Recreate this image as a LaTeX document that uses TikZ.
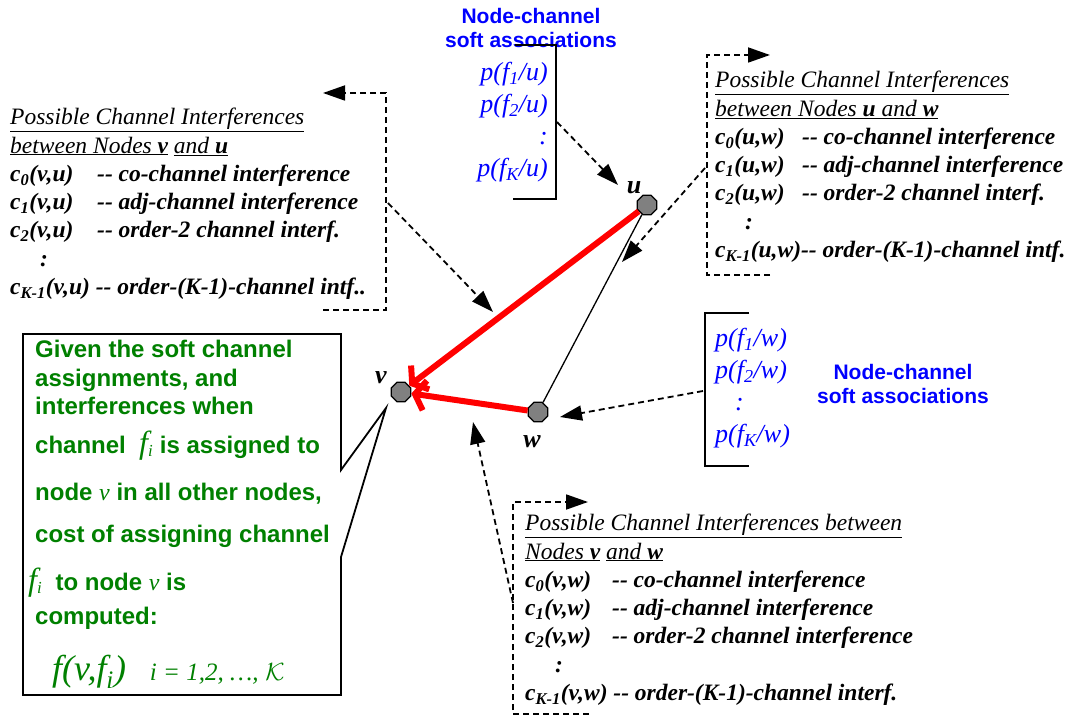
\documentclass[tikz,border=0pt]{standalone}
\usepackage{fontspec}
\setmainfont{Liberation Serif}
\newfontfamily\arialfont{Liberation Sans}
\usetikzlibrary{arrows.meta,shapes.geometric}
\definecolor{assocblue}{RGB}{0,0,255}
\definecolor{notegreen}{RGB}{0,128,0}
\tikzset{
  netnode/.style={
    regular polygon,
    regular polygon sides=8,
    draw,
    line width=1.3pt,
    fill=gray,
    minimum size=21pt,
    inner sep=0pt
  },
  nodelabel/.style={inner sep=0pt,font=\bfseries\itshape\fontsize{26}{26}\selectfont},
  ifbox/.style={
    align=left,
    anchor=north west,
    inner sep=0pt,
    font=\itshape\fontsize{23.5}{28.3}\selectfont
  },
  probtext/.style={text=assocblue,inner sep=0pt,font=\itshape\fontsize{26}{32}\selectfont},
  assoctext/.style={text=assocblue,align=center,inner sep=0pt,font=\arialfont\bfseries\fontsize{21}{24.5}\selectfont},
  notetext/.style={text=notegreen,anchor=base west,inner sep=0pt,font=\arialfont\bfseries\fontsize{24}{28}\selectfont},
  redarrow/.style={red,line width=6pt,-{Straight Barb[length=10pt,width=30pt]}},
  dasharrow/.style={dash pattern=on 6pt off 4pt,line width=1.8pt,-{Triangle[length=22pt,width=15pt]}},
  dashbracket/.style={dash pattern=on 6pt off 4pt,line width=1.8pt},
  bracket/.style={line width=1.8pt}
}
\newcommand{\cpair}[2]{\makebox[87pt][l]{c\textsubscript{#1}(#2)}}
\newcommand{\scr}[1]{{\rmfamily\mdseries\itshape #1}}
\newcommand{\fis}{{\fontsize{32}{32}\selectfont\scr{f}}\textsubscript{\scr{i}}}

\begin{document}
\begin{tikzpicture}[x=1pt,y=-1pt]
  \useasboundingbox (0,0) rectangle (1074,719);
  % network
  \node[netnode] (u) at (647,205) {};
  \node[netnode] (v) at (401,392) {};
  \node[netnode] (w) at (538,412) {};
  \node[nodelabel] (ulab) at (634,188) {u};
  \node[nodelabel] (vlab) at (381,378) {v};
  \node[nodelabel] (wlab) at (532,442) {w};
  \draw[line width=1.3pt] (u) -- (w);
  \draw[redarrow] (u) -- (v);
  \draw[redarrow] (w) -- (v);

  % soft associations of u
  \node[assoctext] (assocu) at (531,28) {Node-channel\\soft associations};
  \node[probtext,align=right,anchor=north east] (pu) at (548,62)
    {p(f\textsubscript{1}/u)\\p(f\textsubscript{2}/u)\\:\\p(f\textsubscript{K}/u)};
  \draw[bracket] (515,45) -- (556,45) -- (556,199) -- (513,199);
  \coordinate (puout) at (557,122);
  \coordinate (puhit) at (618,185);
  \draw[dasharrow] (puout) -- (puhit);

  % soft associations of w
  \node[assoctext] (assocw) at (903,384) {Node-channel\\soft associations};
  \node[probtext,align=left,anchor=north west] (pw) at (715,328)
    {p(f\textsubscript{1}/w)\\p(f\textsubscript{2}/w)\\\hspace{20pt}:\\p(f\textsubscript{K}/w)};
  \draw[bracket] (749,313) -- (705,313) -- (705,466) -- (749,466);
  \coordinate (pwout) at (703,391);
  \coordinate (pwhit) at (560,417);
  \draw[dasharrow] (pwout) -- (pwhit);

  % interferences between v and u
  \node[ifbox] (vubox) at (10,108) {%
    \underline{Possible Channel Interferences}\\
    \underline{between Nodes \textbf{v}} \underline{and \textbf{u}}\\
    \textbf{\cpair{0}{v,u}-{}- co-channel interference}\\
    \textbf{\cpair{1}{v,u}-{}- adj-channel interference}\\
    \textbf{\cpair{2}{v,u}-{}- order-2 channel interf.}\\
    \textbf{\hspace{30pt}:}\\
    \textbf{c\textsubscript{K-1}(v,u) -{}- order-(K-1)-channel intf..}};
  \draw[dashbracket,-{Triangle[length=22pt,width=15pt]}]
    (323,310) -- (386,310) -- (386,93) -- (323,93);
  \coordinate (vuout) at (388,203);
  \coordinate (vuhit) at (493,312);
  \draw[dasharrow] (vuout) -- (vuhit);

  % interferences between u and w
  \node[ifbox] (uwbox) at (715,71) {%
    \underline{Possible Channel Interferences}\\
    \underline{between Nodes \textbf{u} and \textbf{w}}\\
    \textbf{\cpair{0}{u,w}-{}- co-channel interference}\\
    \textbf{\cpair{1}{u,w}-{}- adj-channel interference}\\
    \textbf{\cpair{2}{u,w}-{}- order-2 channel interf.}\\
    \textbf{\hspace{30pt}:}\\
    \textbf{c\textsubscript{K-1}(u,w)-{}- order-(K-1)-channel intf.}};
  \draw[dashbracket,-{Triangle[length=22pt,width=15pt]}]
    (770,275) -- (707,275) -- (707,55) -- (770,55);
  \coordinate (uwout) at (705,168);
  \coordinate (uwhit) at (622,262);
  \draw[dasharrow] (uwout) -- (uwhit);

  % interferences between v and w
  \node[ifbox] (vwbox) at (525,514) {%
    \underline{Possible Channel Interferences between}\\
    \underline{Nodes \textbf{v}} \underline{and \textbf{w}}\\
    \textbf{\cpair{0}{v,w}-{}- co-channel interference}\\
    \textbf{\cpair{1}{v,w}-{}- adj-channel interference}\\
    \textbf{\cpair{2}{v,w}-{}- order-2 channel interference}\\
    \textbf{\hspace{30pt}:}\\
    \textbf{c\textsubscript{K-1}(v,w) -{}- order-(K-1)-channel interf.}};
  \draw[dashbracket,-{Triangle[length=22pt,width=15pt]}]
    (589,714) -- (513,714) -- (513,502) -- (588,502);
  \coordinate (vwout) at (513,603);
  \coordinate (vwhit) at (473,422);
  \draw[dasharrow] (vwout) -- (vwhit);

  % cost note for v
  \coordinate (tip) at (386,408);
  \draw[line width=1.8pt] (341,470) -- (341,334) -- (23,334) -- (23,695)
    -- (341,695) -- (341,557) -- (tip) -- cycle;
  \foreach \y/\txt in {358/{Given the soft channel},
      387/{assignments, and},
      414/{interferences when},
      453/{channel \ \fis\ is assigned to},
      500/{node \scr{v} in all other nodes,},
      542/{cost of assigning channel},
      590/{\hspace{-7pt}\fis\ \ to node \scr{v}\ is},
      624/{computed:}}
    \node[notetext] (note\y) at (35,\y) {\txt};
  \node[notetext] (costf) at (52,680)
    {{\fontsize{36}{36}\selectfont\scr{f(v,f}\textsubscript{\scr{i}}\scr{)}}\quad
     {\fontsize{25}{25}\selectfont\scr{i = 1,2, \ldots,} $\mathcal{K}$}};
\end{tikzpicture}
\end{document}
